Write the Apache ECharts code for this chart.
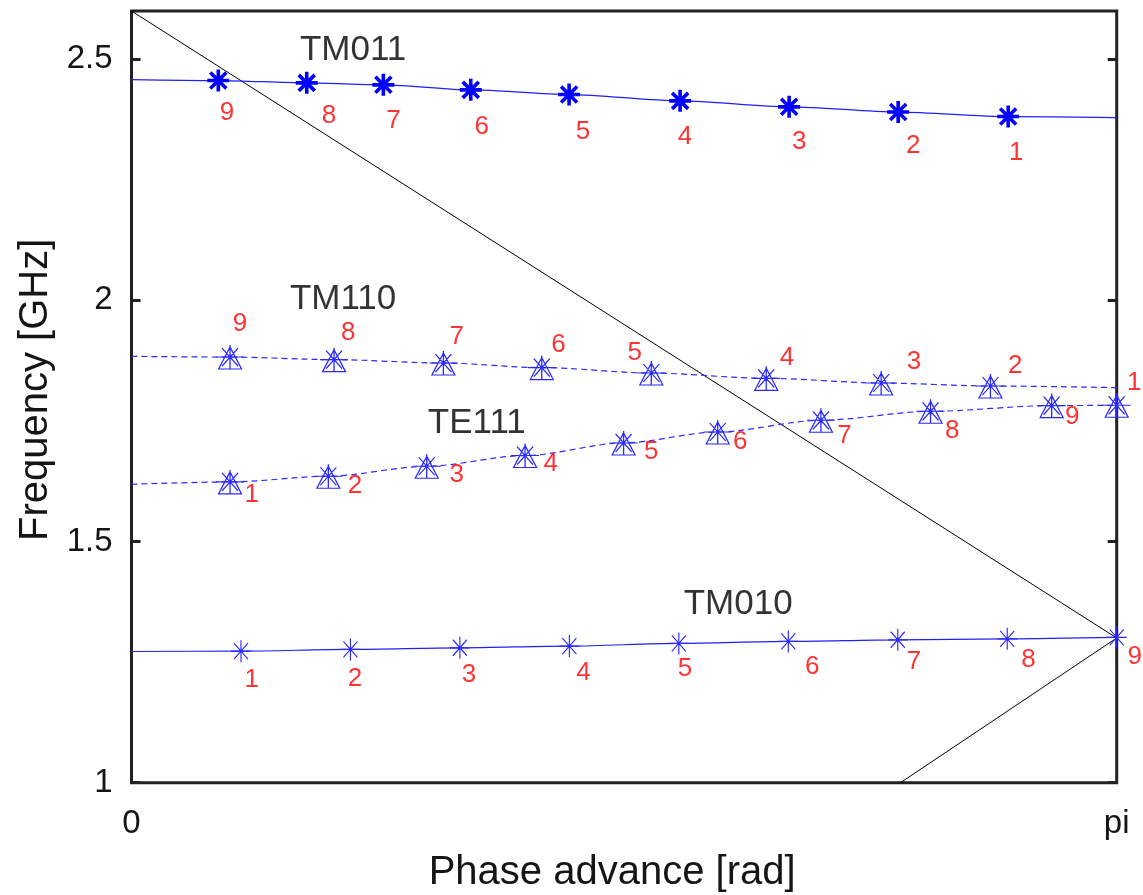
<!DOCTYPE html>
<html><head><meta charset="utf-8">
<script src="https://cdn.jsdelivr.net/npm/echarts@6/dist/echarts.min.js"></script>
<style>html,body{margin:0;padding:0;background:#fff}#c{width:1143px;height:895px}</style>
</head><body><div id="c"></div>
<script>
const PI = Math.PI;
// Axis ticks
const xTickValues = [0, PI];
const xTickLabels = ['0', 'pi'];
const yTickValues = [1, 1.5, 2, 2.5];

// Light lines (black)
const light1X = [0, PI];      const light1Y = [2.6, 1.3];
const light2X = [2.452, PI];  const light2Y = [1.0, 1.3];

// TM011 (bold asterisks, solid curve)
const tm011Modes = ['9','8','7','6','5','4','3','2','1'];
const tm011X = [0.2768, 0.5588, 0.8031, 1.0818, 1.3954, 1.7494, 2.0970, 2.4447, 2.7955];
const tm011Y = [2.4558, 2.4510, 2.4469, 2.4365, 2.4268, 2.4137, 2.4013, 2.3905, 2.3812];
const tm011CurveX = [0, 0.2768, 0.5588, 0.8031, 1.0818, 1.3954, 1.7494, 2.0970, 2.4447, 2.7955, PI];
const tm011CurveY = [2.4578, 2.4558, 2.4510, 2.4469, 2.4365, 2.4268, 2.4137, 2.4013, 2.3905, 2.3812, 2.3791];
const tm011LabelX = [0.3046, 0.6299, 0.8350, 1.1169, 1.4400, 1.7653, 2.1289, 2.4925, 2.8210];
const tm011LabelY = [2.3885, 2.3833, 2.3715, 2.3605, 2.3501, 2.3398, 2.3294, 2.3211, 2.3066];

// TM110 (triangle-asterisks, dashed curve)
const tm110Modes = ['9','8','7','6','5','4','3','2','1'];
const tm110X = [0.3142, 0.6459, 0.9945, 1.3083, 1.6575, 2.0240, 2.3905, 2.7390, PI];
const tm110Y = [1.8825, 1.8771, 1.8701, 1.8606, 1.8494, 1.8384, 1.8287, 1.8225, 1.7825];
const tm110CurveX = [0, 0.3142, 0.6459, 0.9945, 1.3083, 1.6575, 2.0240, 2.3905, 2.7390, PI];
const tm110CurveY = [1.8840, 1.8825, 1.8771, 1.8701, 1.8606, 1.8494, 1.8384, 1.8287, 1.8225, 1.8191];
const tm110LabelX = [0.3460, 0.6915, 1.0372, 1.3612, 1.6046, 2.0903, 2.4951, 2.8178, 3.1974];
const tm110LabelY = [1.9517, 1.9323, 1.9254, 1.9082, 1.8908, 1.8813, 1.8736, 1.8647, 1.8281];

// TE111 (triangle-asterisks, dashed curve)
const te111Modes = ['1','2','3','4','5','6','7','8','9'];
const te111X = [0.3142, 0.6277, 0.9415, 1.2550, 1.5692, 1.8693, 2.1984, 2.5480, 2.9342];
const te111Y = [1.6236, 1.6354, 1.6561, 1.6783, 1.7044, 1.7272, 1.7514, 1.7700, 1.7819];
const te111CurveX = [0, 0.3142, 0.6277, 0.9415, 1.2550, 1.5692, 1.8693, 2.1984, 2.5480, 2.9342, PI];
const te111CurveY = [1.6188, 1.6236, 1.6354, 1.6561, 1.6783, 1.7044, 1.7272, 1.7514, 1.7700, 1.7819, 1.7825];
const te111LabelX = [0.3834, 0.7128, 1.0372, 1.3370, 1.6575, 1.9411, 2.2734, 2.6175, 2.9996];
const te111LabelY = [1.5960, 1.6153, 1.6375, 1.6617, 1.6857, 1.7064, 1.7183, 1.7292, 1.7576];

// TM010 (thin asterisks, solid curve)
const tm010Modes = ['1','2','3','4','5','6','7','8','9'];
const tm010X = [0.3491, 0.6981, 1.0472, 1.3963, 1.7453, 2.0944, 2.4435, 2.7925, PI];
const tm010Y = [1.2728, 1.2764, 1.2797, 1.2832, 1.2888, 1.2929, 1.2963, 1.2983, 1.3012];
const tm010CurveX = [0, 0.3491, 0.6981, 1.0472, 1.3963, 1.7453, 2.0944, 2.4435, 2.7925, PI];
const tm010CurveY = [1.2720, 1.2728, 1.2764, 1.2797, 1.2832, 1.2888, 1.2929, 1.2963, 1.2983, 1.3012];
const tm010LabelX = [0.3834, 0.7128, 1.0764, 1.4410, 1.7647, 2.1707, 2.4951, 2.8606, 3.1993];
const tm010LabelY = [1.2128, 1.2163, 1.2231, 1.2279, 1.2356, 1.2403, 1.2507, 1.2542, 1.2610];

// Mode names
const modeNames = ['TM011', 'TM110', 'TE111', 'TM010'];
const modeNameX = [0.7065, 0.6746, 1.1010, 1.9344];
const modeNameY = [2.5179, 2.0021, 1.7452, 1.3702];

const FONT = 'Liberation Sans';
const TEXT = '#151515';
const zip = (xs, ys) => xs.map((x, i) => [x, ys[i]]);

const SYM_BOLD = 'path://M0,-11L0,11M-11,0L11,0M-8,-8L8,8M-8,8L8,-8';
const SYM_THIN = 'path://M0,-11L0,11M-10,0L10,0M-7,-8L7,8M-7,8L7,-8';
const SYM_TRI = 'path://M0,-10L11.5,12L-11.5,12Z M0,-12L0,12 M-14,0L14,0 M-8,-9L8,9 M-8,9L8,-9 M-0.8,-0.8L0.8,-0.8L0.8,0.8L-0.8,0.8Z';

function curve(xs, ys, color, dashed) {
  return { type: 'line', data: zip(xs, ys), smooth: 0.3, smoothMonotone: 'x', symbol: 'none',
    lineStyle: { color, width: 1.2, type: dashed ? [6, 4] : 'solid' }, silent: true, z: 3 };
}
function markers(xs, ys, sym, size, color, bw) {
  return { type: 'scatter', data: zip(xs, ys), symbol: sym, symbolSize: size,
    itemStyle: { color: 'none', borderColor: color, borderWidth: bw, opacity: 1 },
    clip: false, silent: true, z: 4 };
}
function labels(xs, ys, names, color, size) {
  return { type: 'scatter', data: xs.map((x, i) => ({ value: [x, ys[i]], name: names[i] })),
    symbol: 'circle', symbolSize: 1, itemStyle: { color: 'rgba(0,0,0,0)' },
    label: { show: true, position: 'inside', formatter: '{b}', color, fontSize: size, fontFamily: FONT },
    clip: false, silent: true, z: 5 };
}

const chart = echarts.init(document.getElementById('c'), null, { renderer: 'canvas' });
const yAxisBase = {
  type: 'value', min: 1, max: 2.6,
  axisLine: { show: false }, splitLine: { show: false },
  axisTick: { show: true, inside: true, length: 9, customValues: yTickValues, lineStyle: { color: '#222', width: 3 } }
};
chart.setOption({
  animation: false,
  backgroundColor: '#fff',
  textStyle: { fontFamily: FONT },
  grid: { left: 131.5, right: 26.3, top: 11, bottom: 112.3, outerBoundsMode: 'none', containLabel: false,
    show: true, borderColor: '#222', borderWidth: 3, backgroundColor: 'transparent' },
  xAxis: {
    type: 'value', min: 0, max: PI,
    name: 'Phase advance [rad]', nameLocation: 'middle', nameGap: 70,
    nameTextStyle: { fontSize: 40, color: TEXT, fontFamily: FONT, padding: [0, 24, 0, 0] },
    axisLine: { show: false }, splitLine: { show: false }, axisTick: { show: false },
    axisLabel: { customValues: xTickValues, fontSize: 33, color: TEXT, margin: 25, fontFamily: FONT,
      formatter: v => (Math.abs(v) < 1e-9 ? xTickLabels[0] : xTickLabels[1]) }
  },
  yAxis: [
    Object.assign({}, yAxisBase, {
      position: 'left',
      name: 'Frequency [GHz]', nameLocation: 'middle', nameGap: 76,
      nameTextStyle: { fontSize: 40, color: TEXT, fontFamily: FONT, padding: [0, 0, 0, 14] },
      axisLabel: { customValues: yTickValues, fontSize: 33, color: TEXT, margin: 19, fontFamily: FONT,
        formatter: v => String(v) }
    }),
    Object.assign({}, yAxisBase, { position: 'right', axisLabel: { show: false } })
  ],
  series: [
    { type: 'line', data: zip(light1X, light1Y), symbol: 'none', lineStyle: { color: '#000', width: 1 }, silent: true, z: 2 },
    { type: 'line', data: zip(light2X, light2Y), symbol: 'none', lineStyle: { color: '#000', width: 1 }, silent: true, z: 2 },
    curve(tm011CurveX, tm011CurveY, '#1f1fff', false),
    curve(tm110CurveX, tm110CurveY, '#2b2bff', true),
    curve(te111CurveX, te111CurveY, '#2b2bff', true),
    curve(tm010CurveX, tm010CurveY, '#1f1fff', false),
    markers(tm011X, tm011Y, SYM_BOLD, [22, 22], '#0000ff', 3.6),
    markers(tm110X, tm110Y, SYM_TRI, [28, 24], '#2a2aff', 1.2),
    markers(te111X, te111Y, SYM_TRI, [28, 24], '#2a2aff', 1.2),
    markers(tm010X, tm010Y, SYM_THIN, [20, 22], '#2a2aff', 1.2),
    labels(tm011LabelX, tm011LabelY, tm011Modes, '#ff0000', 26),
    labels(tm110LabelX, tm110LabelY, tm110Modes, '#ff0000', 26),
    labels(te111LabelX, te111LabelY, te111Modes, '#ff0000', 26),
    labels(tm010LabelX, tm010LabelY, tm010Modes, '#ff0000', 26),
    labels(modeNameX, modeNameY, modeNames, '#000', 35)
  ]
});
</script>
</body></html>
